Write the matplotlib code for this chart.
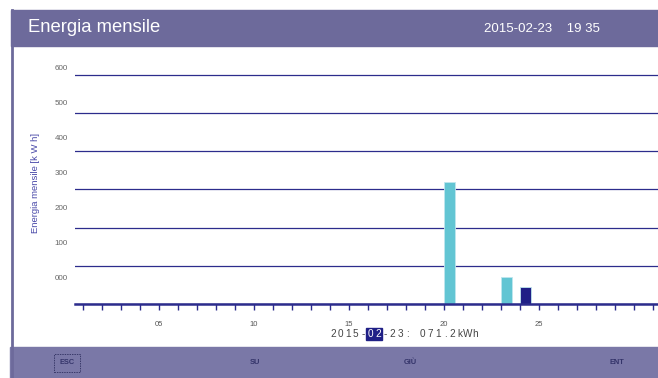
import matplotlib.pyplot as plt
from matplotlib.patches import Rectangle
from matplotlib.lines import Line2D

# daily energy for the month
days = [20, 23, 24]
energy = [320, 71.2, 44]
bar_colors = ["#62c5d3", "#62c5d3", "#1f1f86"]
selected_day = "2015-02-23"
selected_value = 71.2

title = "Energia mensile"
clock = "2015-02-23    19 35"
ylabel = "Energia mensile [k W h]"
grid_values = [0, 100, 200, 300, 400, 500, 600]
label_values = [0, 100, 200, 300, 400, 500, 600]
day_ticks = list(range(1, 32))
labelled_days = [5, 10, 15, 20, 25]
buttons = ["ESC", "SU", "GIÙ", "ENT"]

W, H = 658, 378
BAND = "#6d6a9b"
FOOT = "#7a78a7"
NAVY = "#2c2c8c"
PX = 0.3817  # pixels per kWh

plt.rcParams["font.family"] = ["Liberation Sans", "DejaVu Sans"]
fig = plt.figure(figsize=(W / 100, H / 100), dpi=100)


def fx(px):
    return px / W


def fy(py):
    return 1 - py / H


# header band, left border and footer band
fig.patches.append(Rectangle((fx(11), fy(46)), 1 - fx(11), fy(10) - fy(46),
                             transform=fig.transFigure, color=BAND, zorder=0))
fig.patches.append(Rectangle((fx(10), 0), 1 - fx(10), fy(347),
                             transform=fig.transFigure, color=FOOT, zorder=0))
fig.lines.append(Line2D([fx(11.5), fx(11.5)], [0, fy(10)], transform=fig.transFigure,
                        color=BAND, lw=2))
fig.text(fx(28), fy(28), title, color="white", fontsize=13.3, va="center")
fig.text(fx(484), fy(29), clock, color="white", fontsize=9.5, va="center")

# plot area: baseline at y=304, 600 gridline at y=75
top_px = 62
ax = fig.add_axes([fx(75), fy(304), 1 - fx(75), fy(top_px) - fy(304)])
x0 = 1 - 8 / 19
ax.set_xlim(x0, x0 + (W - 75) / 19)
ax.set_ylim(0, (304 - top_px) / PX)

ax.bar(days, energy, width=0.58, align="edge", color=bar_colors,
       edgecolor="#bfe6ee", linewidth=0.6, zorder=3)

ax.set_yticks(grid_values)
ax.yaxis.grid(True, color=NAVY, lw=0.9, zorder=1)
ax.tick_params(axis="y", length=0, labelleft=False)
for s in ["top", "right", "left"]:
    ax.spines[s].set_visible(False)
ax.spines["bottom"].set_color(NAVY)
ax.spines["bottom"].set_linewidth(1.8)
ax.spines["bottom"].set_zorder(4)

ax.set_xticks(day_ticks)
ax.set_xticklabels([f"{d:02d}" if d in labelled_days else "" for d in day_ticks])
ax.tick_params(axis="x", direction="out", length=4, width=1, color=NAVY,
               pad=8.5, labelsize=5.5, labelcolor="#555555")

# value labels on the left use their own scale
off, k = 70.7, 0.917
sec = ax.secondary_yaxis("left", functions=(lambda d: (d - off) / k, lambda v: v * k + off))
sec.set_yticks(label_values)
sec.set_yticklabels([f"{v:03d}" for v in label_values])
sec.tick_params(length=0, pad=5, labelsize=5.8, labelcolor="#666666")
sec.spines["left"].set_visible(False)

ax.set_ylabel(ylabel, fontsize=6.8, color="#4848a8")
ax.yaxis.set_label_coords((40 - 75) / (W - 75), 0.5)

# status line under the chart with the month highlighted
status = f"{selected_day}: {selected_value:05.1f}kWh"
step = 7.5
sx, sy = 329, 334
m0 = status.index("-") + 1
hl_left = sx + m0 * step - 0.5
fig.patches.append(Rectangle((fx(hl_left), fy(339.5)), fx(hl_left + 2 * step + 1) - fx(hl_left),
                             fy(328) - fy(339.5), transform=fig.transFigure,
                             color="#1f1f86", zorder=1))
for i, ch in enumerate(status):
    c = "white" if m0 <= i < m0 + 2 else "#444444"
    fig.text(fx(sx + i * step + step / 2), fy(sy), ch, ha="center", va="center",
             fontsize=7.2, color=c, zorder=2)

# soft-key labels in the footer
btn_x = [67, 255, 410, 617]
for name, bx in zip(buttons, btn_x):
    bb = None
    if name == "ESC":
        bb = dict(boxstyle="square,pad=0.7", fc="none", ec="#3a3a6a", lw=0.7, ls=(0, (1.5, 1)))
    fig.text(fx(bx), fy(363), name, fontsize=5.3, fontweight="bold", color="#34346a",
             ha="center", va="center", bbox=bb)

fig.savefig("out.png", dpi=100)
